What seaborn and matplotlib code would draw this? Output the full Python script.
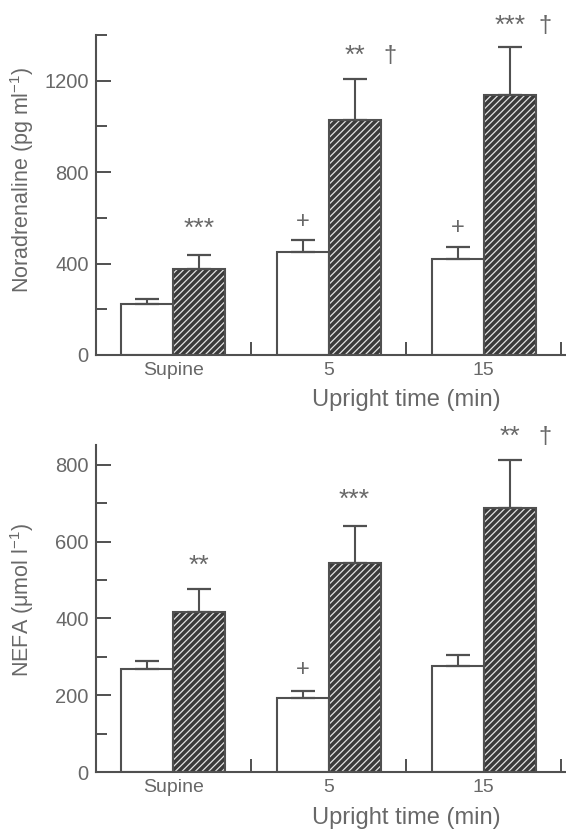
import numpy as np
import pandas as pd
import matplotlib
matplotlib.use("Agg")
import matplotlib.pyplot as plt
from matplotlib.patches import Rectangle
from matplotlib.ticker import FixedLocator
import seaborn as sns

# ---------------- data ----------------
categories = ["Supine", "5", "15"]
groups = ["Placebo", "Drug"]

# Noradrenaline (pg/ml)
nor_placebo = [225, 452, 422]
nor_placebo_err = [244, 502, 473]      # top of error bar
nor_drug = [378, 1028, 1139]
nor_drug_err = [437, 1207, 1347]

# NEFA (umol/l)
nefa_placebo = [268, 194, 275]
nefa_placebo_err = [288, 212, 305]
nefa_drug = [416, 545, 687]
nefa_drug_err = [477, 641, 813]

# significance marks: (category index, group index, text, y)
nor_marks = [(0, 1, "***", 551), (1, 0, "+", 584), (1, 1, "**", 1307), (1, 1, "†", 1307),
             (2, 0, "+", 554), (2, 1, "***", 1440), (2, 1, "†", 1440)]
nefa_marks = [(0, 1, "**", 537), (1, 0, "+", 266), (1, 1, "***", 708),
              (2, 1, "**", 872), (2, 1, "†", 872)]

nor_yticks = [0, 400, 800, 1200]
nor_yminor = [200, 600, 1000, 1400]
nefa_yticks = [0, 200, 400, 600, 800]
nefa_yminor = [100, 300, 500, 700]

# ---------------- style ----------------
sns.set_style("white")
plt.rcParams["font.family"] = ["Liberation Sans", "DejaVu Sans"]
plt.rcParams["mathtext.fontset"] = "custom"
plt.rcParams["mathtext.rm"] = "Liberation Sans"
plt.rcParams["mathtext.default"] = "regular"
plt.rcParams["hatch.linewidth"] = 0.9

LINE = "#505050"
TEXT = "#686868"
DARK = "#3a3a3a"
HATCH = "#e2e2e2"

W, H = 566, 834
fig = plt.figure(figsize=(W / 100, H / 100), dpi=100)
fig.patch.set_facecolor("white")


def axes_px(left, top, right, bottom):
    return fig.add_axes([left / W, 1 - bottom / H, (right - left) / W, (bottom - top) / H])


def panel(ax, placebo, placebo_err, drug, drug_err, marks, ylim, yticks, yminor, ylabel,
          xlabel_y, ylabel_y):
    df = pd.DataFrame({
        "time": categories * 2,
        "group": [groups[0]] * 3 + [groups[1]] * 3,
        "value": list(placebo) + list(drug),
    })
    sns.barplot(data=df, x="time", y="value", hue="group", order=categories,
                hue_order=groups, palette={groups[0]: "white", groups[1]: DARK},
                width=0.67, gap=0, edgecolor=LINE, linewidth=1.5, errorbar=None,
                legend=False, ax=ax, zorder=2)
    bars = list(ax.patches)
    placebo_bars = bars[:3]
    drug_bars = bars[3:6]
    for p in drug_bars:
        p.set_hatch("/////")
        p.set_edgecolor(HATCH)
        p.set_linewidth(0)
        ax.add_patch(Rectangle(p.get_xy(), p.get_width(), p.get_height(), fill=False,
                               edgecolor=LINE, linewidth=1.5, zorder=3))
    # error bars (upper only)
    for blist, means, tops in ((placebo_bars, placebo, placebo_err), (drug_bars, drug, drug_err)):
        xs = [p.get_x() + p.get_width() / 2 for p in blist]
        up = np.array(tops) - np.array(means)
        ax.errorbar(xs, means, yerr=[np.zeros(3), up], fmt="none", ecolor=LINE,
                    elinewidth=1.5, capsize=8.5, capthick=1.6, zorder=4)
    # marks
    for ci, gi, txt, y in marks:
        p = (placebo_bars if gi == 0 else drug_bars)[ci]
        cx = p.get_x() + p.get_width() / 2
        if txt == "†":
            cx += 0.23
        if txt == "+":
            fs = 17
        elif txt == "†":
            fs = 17
        else:
            fs = 19
        ax.text(cx, y, txt, ha="center", va="center", fontsize=fs, color=TEXT,
                clip_on=False, zorder=5)

    ax.set_xlim(-0.5, 2.53)
    ax.set_ylim(*ylim)
    for s in ("top", "right"):
        ax.spines[s].set_visible(False)
    for s in ("left", "bottom"):
        ax.spines[s].set_color(LINE)
        ax.spines[s].set_linewidth(1.5)
    ax.set_yticks(yticks)
    ax.set_yticklabels([str(v) for v in yticks])
    ax.yaxis.set_minor_locator(FixedLocator(yminor))
    ax.tick_params(axis="y", which="major", direction="in", length=10.5, width=1.4,
                   color=LINE, labelcolor=TEXT, labelsize=14.5, pad=5, left=True)
    ax.tick_params(axis="y", which="minor", direction="in", length=8, width=1.4,
                   color=LINE, left=True)
    ax.set_xticks([0, 1, 2])
    ax.set_xticklabels(categories)
    ax.xaxis.set_minor_locator(FixedLocator([0.5, 1.5, 2.5]))
    ax.tick_params(axis="x", which="major", length=0, labelcolor=TEXT, labelsize=14, pad=5)
    ax.tick_params(axis="x", which="minor", direction="in", length=9.5, width=1.4,
                   color=LINE, bottom=True)
    ax.set_xlabel("Upright time (min)", fontsize=17, color=TEXT)
    ax.xaxis.set_label_coords(0.66, xlabel_y)
    ax.set_ylabel(ylabel, fontsize=15.5, color=TEXT)
    ax.yaxis.set_label_coords(-0.127, ylabel_y)
    ax.set_facecolor("none")
    ax.grid(False)


ax1 = axes_px(95.7, 35, 566, 355)
panel(ax1, nor_placebo, nor_placebo_err, nor_drug, nor_drug_err, nor_marks,
      (0, 1400), nor_yticks, nor_yminor, "Noradrenaline (pg ml$^{-1}$)", -0.105, 0.547)

ax2 = axes_px(95.7, 445, 566, 772)
panel(ax2, nefa_placebo, nefa_placebo_err, nefa_drug, nefa_drug_err, nefa_marks,
      (0, 852), nefa_yticks, nefa_yminor, "NEFA (μmol l$^{-1}$)", -0.108, 0.526)

fig.savefig("out.png", dpi=100, facecolor="white")
